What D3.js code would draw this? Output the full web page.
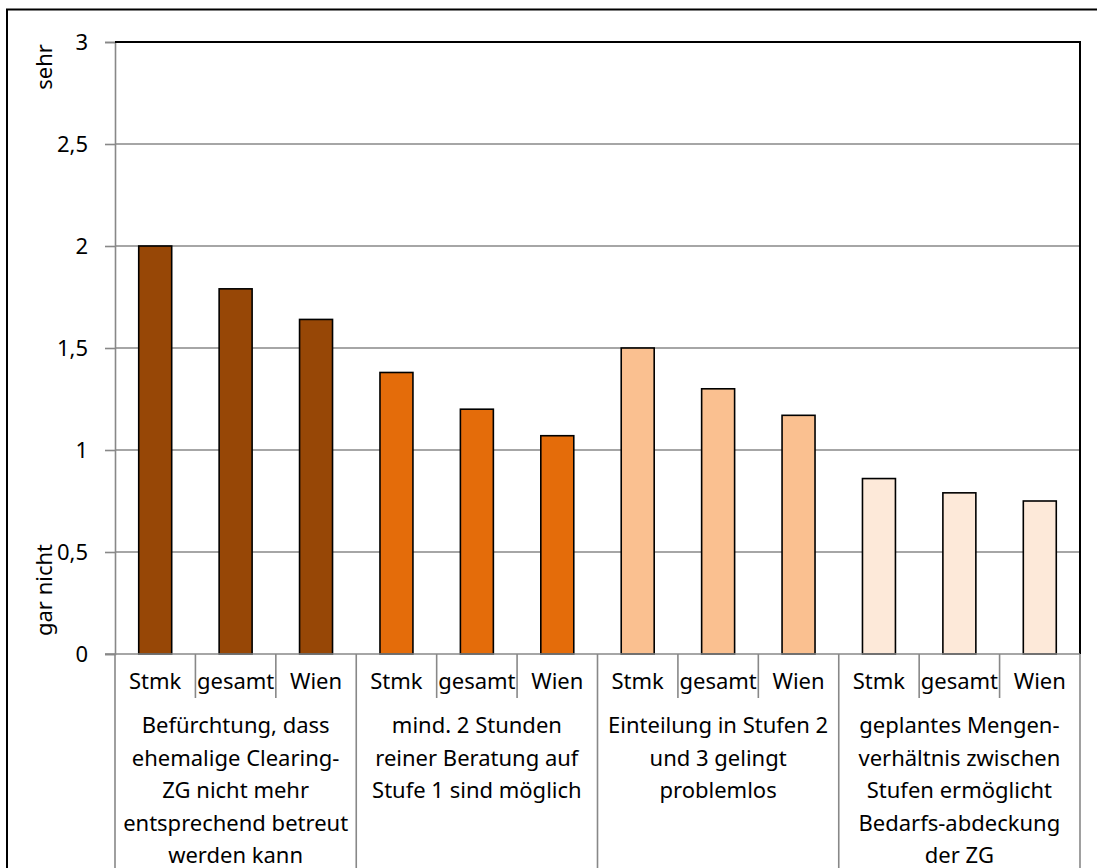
<!DOCTYPE html>
<html>
<head>
<meta charset="utf-8">
<script src="https://cdn.jsdelivr.net/npm/d3@7"></script>
<style>
  html, body { margin: 0; padding: 0; background: #fff; }
  svg { display: block; }
  text { font-family: "Noto Sans", "Open Sans", sans-serif; fill: #000; }
</style>
</head>
<body>
<svg id="chart" width="1097" height="868"></svg>
<script>
// Survey statements (group labels, pre-wrapped into lines)
const groups = [
  ["Befürchtung, dass", "ehemalige Clearing-", "ZG nicht mehr", "entsprechend betreut", "werden kann"],
  ["mind. 2 Stunden", "reiner Beratung auf", "Stufe 1 sind möglich"],
  ["Einteilung in Stufen 2", "und 3 gelingt", "problemlos"],
  ["geplantes Mengen-", "verhältnis zwischen", "Stufen ermöglicht", "Bedarfs-abdeckung", "der ZG"]
];
// Regions within each statement
const regions = ["Stmk", "gesamt", "Wien"];
// Mean ratings per statement, in region order
const values = [
  [2.00, 1.79, 1.64],
  [1.38, 1.20, 1.07],
  [1.50, 1.30, 1.17],
  [0.86, 0.79, 0.75]
];
const groupColors = ["#974706", "#E46C0A", "#FAC090", "#FDE9D9"];
const yTicks = [0, 0.5, 1, 1.5, 2, 2.5, 3];
const yTickLabels = ["0", "0,5", "1", "1,5", "2", "2,5", "3"];
const yTitleTop = "sehr";
const yTitleBottom = "gar nicht";

const svg = d3.select("#chart");
const plot = { left: 115, right: 1080, top: 42, bottom: 654 };
const FONT = 22;

// Flatten into one row per bar
const rows = [];
groups.forEach((g, gi) => regions.forEach((r, ri) => {
  rows.push({ id: gi + "-" + ri, gi, ri, region: r, value: values[gi][ri] });
}));

const x = d3.scaleBand()
  .domain(rows.map(d => d.id))
  .range([plot.left, plot.right])
  .paddingInner(0.59)
  .paddingOuter(0.295);
const step = x.step();

const y = d3.scaleLinear().domain([0, 3]).range([plot.bottom, plot.top]);

// Outer chart frame
svg.append("rect")
  .attr("x", 7).attr("y", 9.5)
  .attr("width", 1200).attr("height", 1000)
  .attr("fill", "none").attr("stroke", "#000").attr("stroke-width", 2);

// Horizontal gridlines
svg.append("g")
  .selectAll("line")
  .data(yTicks.filter(t => t > 0 && t < 3))
  .join("line")
  .attr("x1", plot.left).attr("x2", plot.right)
  .attr("y1", d => y(d)).attr("y2", d => y(d))
  .attr("stroke", "#888").attr("stroke-width", 1.6);

// Y axis with tick marks and comma decimal labels
const yAxis = d3.axisLeft(y)
  .tickValues(yTicks)
  .tickSize(10)
  .tickPadding(17)
  .tickFormat((d, i) => yTickLabels[i]);
const yG = svg.append("g").attr("transform", `translate(${plot.left},0)`).call(yAxis);
yG.select(".domain").attr("stroke", "#888").attr("stroke-width", 1.6);
yG.selectAll(".tick line").attr("stroke", "#888").attr("stroke-width", 1.6);
yG.selectAll(".tick text")
  .attr("font-size", FONT)
  .attr("font-family", "Noto Sans, sans-serif")
  .attr("fill", "#000");

// Plot area top and right borders
svg.append("path")
  .attr("d", `M${plot.left},${plot.top}H${plot.right}V${plot.bottom}`)
  .attr("fill", "none").attr("stroke", "#000").attr("stroke-width", 2);

// Bars
svg.append("g")
  .selectAll("rect")
  .data(rows)
  .join("rect")
  .attr("x", d => x(d.id))
  .attr("width", x.bandwidth())
  .attr("y", d => y(d.value))
  .attr("height", d => y(0) - y(d.value))
  .attr("fill", d => groupColors[d.gi])
  .attr("stroke", "#000").attr("stroke-width", 1.6);

// Baseline
svg.append("line")
  .attr("x1", plot.left - 10).attr("x2", plot.right)
  .attr("y1", plot.bottom).attr("y2", plot.bottom)
  .attr("stroke", "#888").attr("stroke-width", 1.6);

// Category axis: inner ticks between regions, full-height separators between statements
const cat = svg.append("g");
rows.forEach(d => {
  const left = x(d.id) - (step - x.bandwidth()) / 2;
  const isGroupStart = d.ri === 0;
  cat.append("line")
    .attr("x1", left).attr("x2", left)
    .attr("y1", plot.bottom).attr("y2", isGroupStart ? 868 : 698)
    .attr("stroke", "#888").attr("stroke-width", 1.6);
});
cat.append("line")
  .attr("x1", plot.right).attr("x2", plot.right)
  .attr("y1", plot.bottom).attr("y2", 868)
  .attr("stroke", "#888").attr("stroke-width", 1.6);

// Region labels
cat.selectAll("text.region")
  .data(rows)
  .join("text")
  .attr("class", "region")
  .attr("x", d => x(d.id) + x.bandwidth() / 2)
  .attr("y", 689)
  .attr("text-anchor", "middle")
  .attr("font-size", FONT)
  .text(d => d.region);

// Statement labels
groups.forEach((lines, gi) => {
  const cx = x(gi + "-1") + x.bandwidth() / 2;
  const t = cat.append("text")
    .attr("text-anchor", "middle")
    .attr("font-size", FONT);
  lines.forEach((ln, li) => {
    t.append("tspan").attr("x", cx).attr("y", 733 + li * 32.5).text(ln);
  });
});

// Y axis titles
svg.append("text")
  .attr("transform", "translate(52,67) rotate(-90)")
  .attr("text-anchor", "middle")
  .attr("font-size", FONT)
  .text(yTitleTop);
svg.append("text")
  .attr("transform", "translate(52,590) rotate(-90)")
  .attr("text-anchor", "middle")
  .attr("font-size", FONT)
  .text(yTitleBottom);
</script>
</body>
</html>
